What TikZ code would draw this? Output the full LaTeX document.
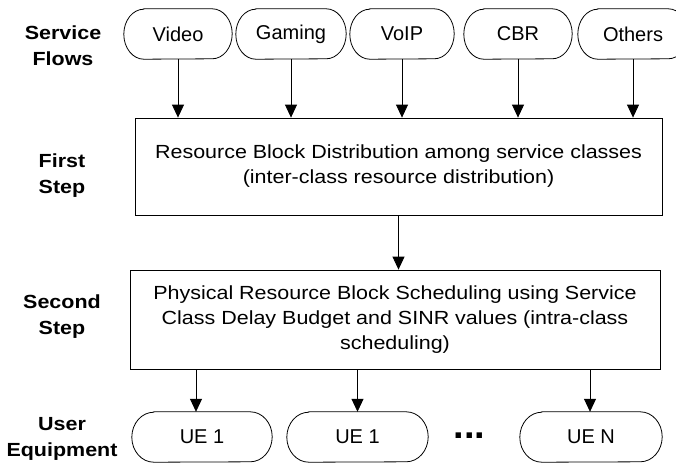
\documentclass[tikz,border=0pt]{standalone}
\usepackage{fontspec}
\setmainfont{Liberation Sans}[FakeStretch=1.13]
\newfontfamily\pillfont{Liberation Sans}
\usetikzlibrary{arrows.meta}

\tikzset{
  boxtext/.style={font=\fontsize{19}{25}\selectfont, align=center},
  steplabel/.style={font=\fontsize{19}{26}\selectfont\bfseries, align=center, anchor=base, inner sep=0pt},
  pilltext/.style={font=\pillfont\fontsize{20}{24}\selectfont, minimum height=50pt, inner sep=0pt},
  flowbox/.style={draw, line width=0.8pt, inner sep=0pt},
  link/.style={line width=0.8pt, -{Triangle[length=13pt,width=12pt]}},
  pillline/.style={line width=0.8pt}
}

% outline of a pill-shaped node: straight top and bottom, elliptic ends
\newcommand\pilloutline[2]{%
  \draw[pillline] ([xshift=#2]#1.north west) -- ([xshift=-#2]#1.north east)
    arc[start angle=90, end angle=-90, x radius=#2, y radius=25pt]
    -- ([xshift=#2]#1.south west)
    arc[start angle=270, end angle=90, x radius=#2, y radius=25pt] -- cycle;}

\begin{document}
\begin{tikzpicture}[x=1pt, y=-1pt]
  \useasboundingbox (0,0) rectangle (676,463);

  % row labels (anchored on the baseline of their last line)
  \node[steplabel] (lflows) at (63,65) {Service\\Flows};
  \node[steplabel] (lfirst) at (62,193) {First\\Step};
  \node[steplabel] (lsecond) at (62,334) {Second\\Step};
  \node[steplabel] (lue) at (62,456) {User\\Equipment};

  % service flows
  \node[pilltext, minimum width=108pt] (video) at (178,34) {Video};
  \node[pilltext, minimum width=110pt] (gaming) at (291,34) {\raisebox{2pt}{Gaming}};
  \node[pilltext, minimum width=104pt] (voip) at (402,34) {VoIP};
  \node[pilltext, minimum width=108pt] (cbr) at (518,34) {CBR};
  \node[pilltext, minimum width=110pt] (others) at (633,34) {Others};
  \foreach \p in {video,gaming,voip,cbr,others} {\pilloutline{\p}{20pt}}

  % scheduling steps
  \node[flowbox, boxtext, minimum width=527pt, minimum height=97pt] (dist) at (398.5,166.5)
    {Resource Block Distribution among service classes\\(inter-class resource distribution)};
  \node[flowbox, boxtext, minimum width=530pt, minimum height=99pt] (sched) at (395,319.5)
    {Physical Resource Block Scheduling using Service\\Class Delay Budget and SINR values (intra-class\\scheduling)};

  % user equipment
  \node[pilltext, minimum width=140pt] (uea) at (202,437) {UE 1};
  \node[pilltext, minimum width=141pt] (ueb) at (357.5,437) {UE 1};
  \node[pilltext, minimum width=142pt] (uen) at (591,437) {UE N};
  \foreach \p in {uea,ueb,uen} {\pilloutline{\p}{22pt}}
  \node[font=\pillfont\bfseries\fontsize{38}{38}\selectfont, anchor=base, inner sep=0pt] (dots) at (469.5,438.5) {...};

  % connectors
  \foreach \p in {video,gaming,voip,cbr,others}
    \draw[link] (\p.south) -- (\p.south |- dist.north);
  \draw[link] (dist.south) -- (dist.south |- sched.north);
  \draw[link] ([xshift=-6pt]uea.north |- sched.south) -- ([xshift=-6pt]uea.north);
  \draw[link] (ueb.north |- sched.south) -- (ueb.north);
  \draw[link] ([xshift=-1pt]uen.north |- sched.south) -- ([xshift=-1pt]uen.north);
\end{tikzpicture}
\end{document}
